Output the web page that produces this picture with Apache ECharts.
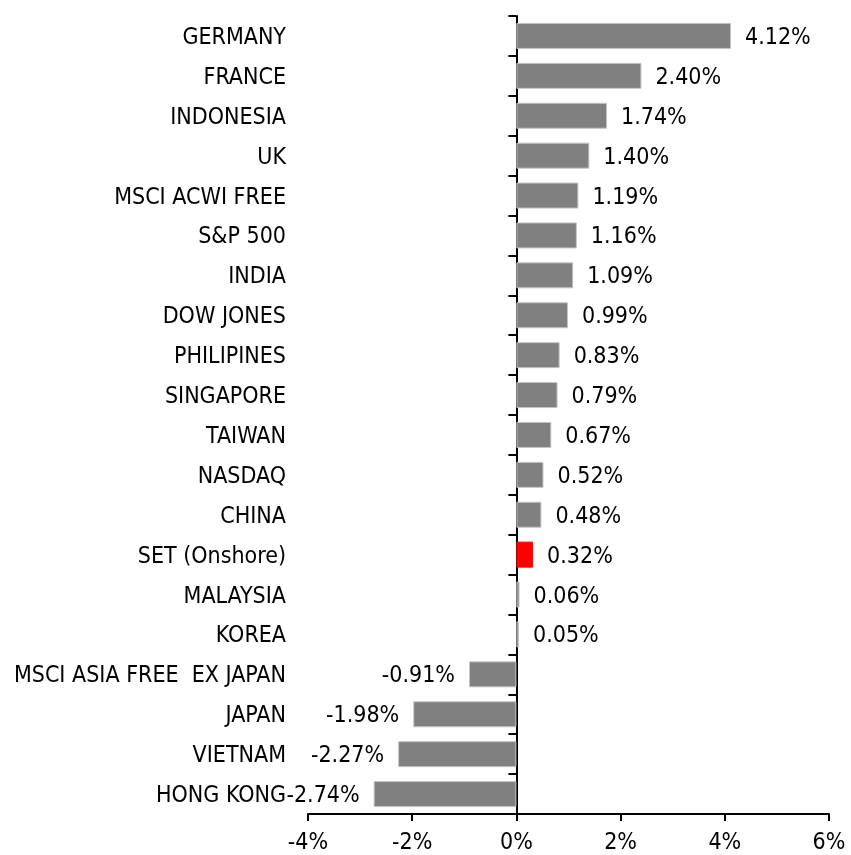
<!DOCTYPE html>
<html>
<head>
<meta charset="utf-8">
<script src="https://cdn.jsdelivr.net/npm/echarts@6/dist/echarts.min.js"></script>
<style>
  html, body { margin: 0; padding: 0; background: #fff; }
  #chart { width: 851px; height: 855px; }
</style>
</head>
<body>
<div id="chart"></div>
<script>
// markets, top to bottom
var markets = ['GERMANY', 'FRANCE', 'INDONESIA', 'UK', 'MSCI ACWI FREE', 'S&P 500', 'INDIA',
  'DOW JONES', 'PHILIPINES', 'SINGAPORE', 'TAIWAN', 'NASDAQ', 'CHINA', 'SET (Onshore)',
  'MALAYSIA', 'KOREA', 'MSCI ASIA FREE  EX JAPAN', 'JAPAN', 'VIETNAM', 'HONG KONG'];
// % change
var changes = [4.12, 2.40, 1.74, 1.40, 1.19, 1.16, 1.09, 0.99, 0.83, 0.79, 0.67, 0.52, 0.48,
  0.32, 0.06, 0.05, -0.91, -1.98, -2.27, -2.74];
var highlight = 'SET (Onshore)';
var xTicks = [-4, -2, 0, 2, 4, 6];

var font = '"DejaVu Sans Condensed", "DejaVu Sans", sans-serif';

var chart = echarts.init(document.getElementById('chart'));

var barData = changes.map(function (v, i) {
  var isHi = markets[i] === highlight;
  return {
    value: v,
    itemStyle: {
      color: isHi ? '#ff0000' : '#808080',
      borderColor: isHi ? '#ff0000' : '#c4c4c4',
      borderWidth: 1
    },
    label: { position: v < 0 ? 'left' : 'right' }
  };
});

chart.setOption({
  animation: false,
  grid: { left: 308, right: 22, top: 16, bottom: 40 },
  xAxis: {
    type: 'value',
    min: xTicks[0],
    max: xTicks[xTicks.length - 1],
    interval: 2,
    splitLine: { show: false },
    axisLine: { show: true, lineStyle: { color: '#000', width: 2 } },
    axisTick: { show: true, length: 7, lineStyle: { color: '#000', width: 2 } },
    axisLabel: {
      color: '#000', fontFamily: font, fontSize: 23, margin: 18,
      formatter: function (v) { return v + '%'; }
    }
  },
  yAxis: [{
    type: 'category',
    data: markets,
    inverse: true,
    axisLine: { show: false, onZero: false },
    axisTick: { show: false },
    axisLabel: {
      margin: 22,
      formatter: function (v) { return '{n|' + v + '}'; },
      rich: {
        n: { color: '#000', fontFamily: font, fontSize: 23, padding: [4, 0, 0, 0] }
      }
    }
  }, {
    type: 'category',
    data: markets,
    inverse: true,
    position: 'left',
    axisLine: { show: true, onZero: true, lineStyle: { color: '#000', width: 2 } },
    axisTick: { show: true, length: 8, lineStyle: { color: '#000', width: 2 } },
    axisLabel: { show: false }
  }],
  series: [{
    type: 'bar',
    yAxisIndex: 0,
    data: barData,
    barWidth: 26,
    z: 1,
    label: {
      show: true,
      distance: 14,
      offset: [0, 2],
      color: '#000',
      fontFamily: font,
      fontSize: 23,
      formatter: function (p) { return p.value.toFixed(2) + '%'; }
    }
  }]
});
</script>
</body>
</html>
